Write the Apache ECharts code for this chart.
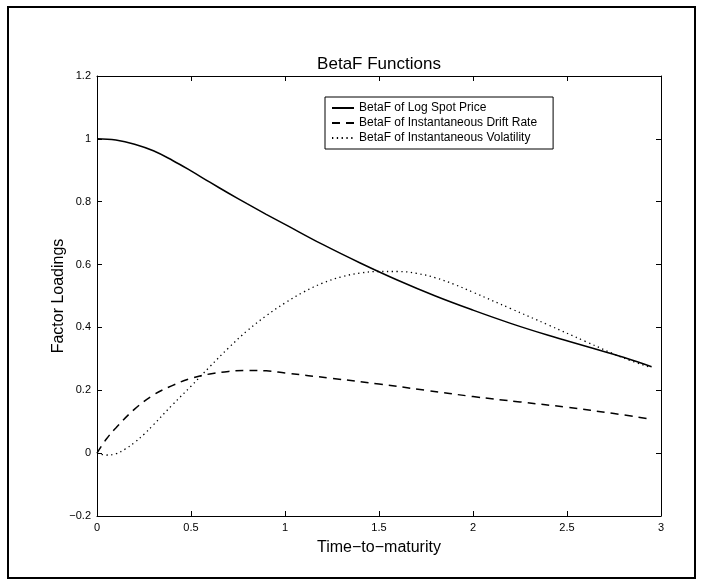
<!DOCTYPE html>
<html><head><meta charset="utf-8">
<script src="https://cdn.jsdelivr.net/npm/echarts@6/dist/echarts.min.js"></script>
<style>html,body{margin:0;padding:0;background:#fff}#c{width:701px;height:585px}</style>
</head><body><div id="c"></div>
<script>
var title = 'BetaF Functions';
var xLabel = 'Time\u2212to\u2212maturity';
var yLabel = 'Factor Loadings';
var seriesNames = ['BetaF of Log Spot Price', 'BetaF of Instantaneous Drift Rate', 'BetaF of Instantaneous Volatility'];

var spotX = [0, 0.1, 0.2, 0.3, 0.4, 0.5, 0.6, 0.7, 0.8, 0.9, 1.0, 1.2, 1.4, 1.6, 1.8, 2.0, 2.2, 2.4, 2.6, 2.8, 2.95];
var spotY = [1.0, 0.996, 0.983, 0.962, 0.932, 0.898, 0.862, 0.827, 0.793, 0.76, 0.728, 0.664, 0.605, 0.55, 0.5, 0.455, 0.413, 0.375, 0.34, 0.305, 0.275];

var driftX = [0, 0.05, 0.1, 0.2, 0.3, 0.4, 0.5, 0.6, 0.7, 0.8, 0.9, 1.0, 1.25, 1.5, 1.75, 2.0, 2.25, 2.5, 2.75, 2.95];
var driftY = [0, 0.045, 0.08, 0.14, 0.185, 0.215, 0.238, 0.252, 0.26, 0.263, 0.262, 0.255, 0.238, 0.22, 0.2, 0.18, 0.163, 0.146, 0.126, 0.108];

var volX = [0, 0.05, 0.1, 0.15, 0.2, 0.25, 0.3, 0.4, 0.5, 0.6, 0.7, 0.8, 0.9, 1.0, 1.1, 1.2, 1.3, 1.4, 1.5, 1.6, 1.7, 1.8, 1.9, 2.0, 2.2, 2.4, 2.6, 2.8, 2.95];
var volY = [0, -0.006, -0.002, 0.013, 0.034, 0.06, 0.09, 0.153, 0.213, 0.275, 0.335, 0.39, 0.437, 0.478, 0.513, 0.541, 0.561, 0.573, 0.578, 0.578, 0.572, 0.558, 0.537, 0.512, 0.46, 0.408, 0.355, 0.303, 0.272];

var xTicks = [0, 0.5, 1, 1.5, 2, 2.5, 3];
var yTicks = [-0.2, 0, 0.2, 0.4, 0.6, 0.8, 1, 1.2];

function pairs(xs, ys) { return xs.map(function (x, i) { return [x, ys[i]]; }); }

var font = 'Liberation Sans, Arial, Helvetica, sans-serif';
var chart = echarts.init(document.getElementById('c'));

function xAx(pos, showLabel) {
  return {
    type: 'value', position: pos, min: xTicks[0], max: xTicks[xTicks.length - 1], interval: 0.5,
    axisLine: { show: true, onZero: false, lineStyle: { color: '#000', width: 1 } },
    axisTick: { show: true, inside: true, length: 5, lineStyle: { color: '#000' } },
    axisLabel: { show: showLabel, color: '#000', fontFamily: font, fontSize: 11, margin: 6,
      formatter: function (v) { return String(Math.round(v * 10) / 10); } },
    splitLine: { show: false },
    name: showLabel ? xLabel : '', nameLocation: 'middle', nameGap: 24,
    nameTextStyle: { color: '#000', fontFamily: font, fontSize: 16 }
  };
}
function yAx(pos, showLabel) {
  return {
    type: 'value', position: pos, min: yTicks[0], max: yTicks[yTicks.length - 1], interval: 0.2,
    axisLine: { show: true, onZero: false, lineStyle: { color: '#000', width: 1 } },
    axisTick: { show: true, inside: true, length: 5, lineStyle: { color: '#000' } },
    axisLabel: { show: showLabel, color: '#000', fontFamily: font, fontSize: 11, margin: 6,
      formatter: function (v) { var r = Math.round(v * 10) / 10; return r < 0 ? '\u2212' + String(-r) : String(r); } },
    splitLine: { show: false },
    name: showLabel ? yLabel : '', nameLocation: 'middle', nameGap: 30, nameMoveOverlap: false,
    nameTextStyle: { color: '#000', fontFamily: font, fontSize: 16 }
  };
}

chart.setOption({
  animation: false,
  backgroundColor: '#fff',
  title: { text: title, left: 374, top: 51, textAlign: 'center',
    textStyle: { color: '#000', fontFamily: font, fontSize: 17, fontWeight: 'normal' } },
  grid: { left: 97, right: 40, top: 76, bottom: 69, containLabel: false },
  xAxis: [xAx('bottom', true), xAx('top', false)],
  yAxis: [yAx('left', true), yAx('right', false)],
  legend: {
    orient: 'vertical', left: 325, top: 97, itemGap: 3, itemWidth: 22, itemHeight: 13,
    padding: [5, 16, 5, 6], borderColor: '#000', borderWidth: 1, backgroundColor: '#fff',
    textStyle: { color: '#000', fontFamily: font, fontSize: 12 },
    itemStyle: { color: 'rgba(0,0,0,0)', borderWidth: 0, opacity: 0 },
    data: seriesNames
  },
  graphic: [{ type: 'rect', shape: { x: 8, y: 7, width: 687, height: 571 }, silent: true,
    style: { fill: 'none', stroke: '#000', lineWidth: 2 } }],
  series: [
    { name: seriesNames[0], type: 'line', data: pairs(spotX, spotY), smooth: 0.4, symbol: 'none',
      lineStyle: { color: '#000', width: 1.5, type: 'solid' }, itemStyle: { color: '#000' } },
    { name: seriesNames[1], type: 'line', data: pairs(driftX, driftY), smooth: 0.4, symbol: 'none',
      lineStyle: { color: '#000', width: 1.5, type: [8, 6] }, itemStyle: { color: '#000' } },
    { name: seriesNames[2], type: 'line', data: pairs(volX, volY), smooth: 0.4, symbol: 'none',
      lineStyle: { color: '#000', width: 1.3, type: [1.3, 3.5] }, itemStyle: { color: '#000' } }
  ]
});
</script></body></html>
